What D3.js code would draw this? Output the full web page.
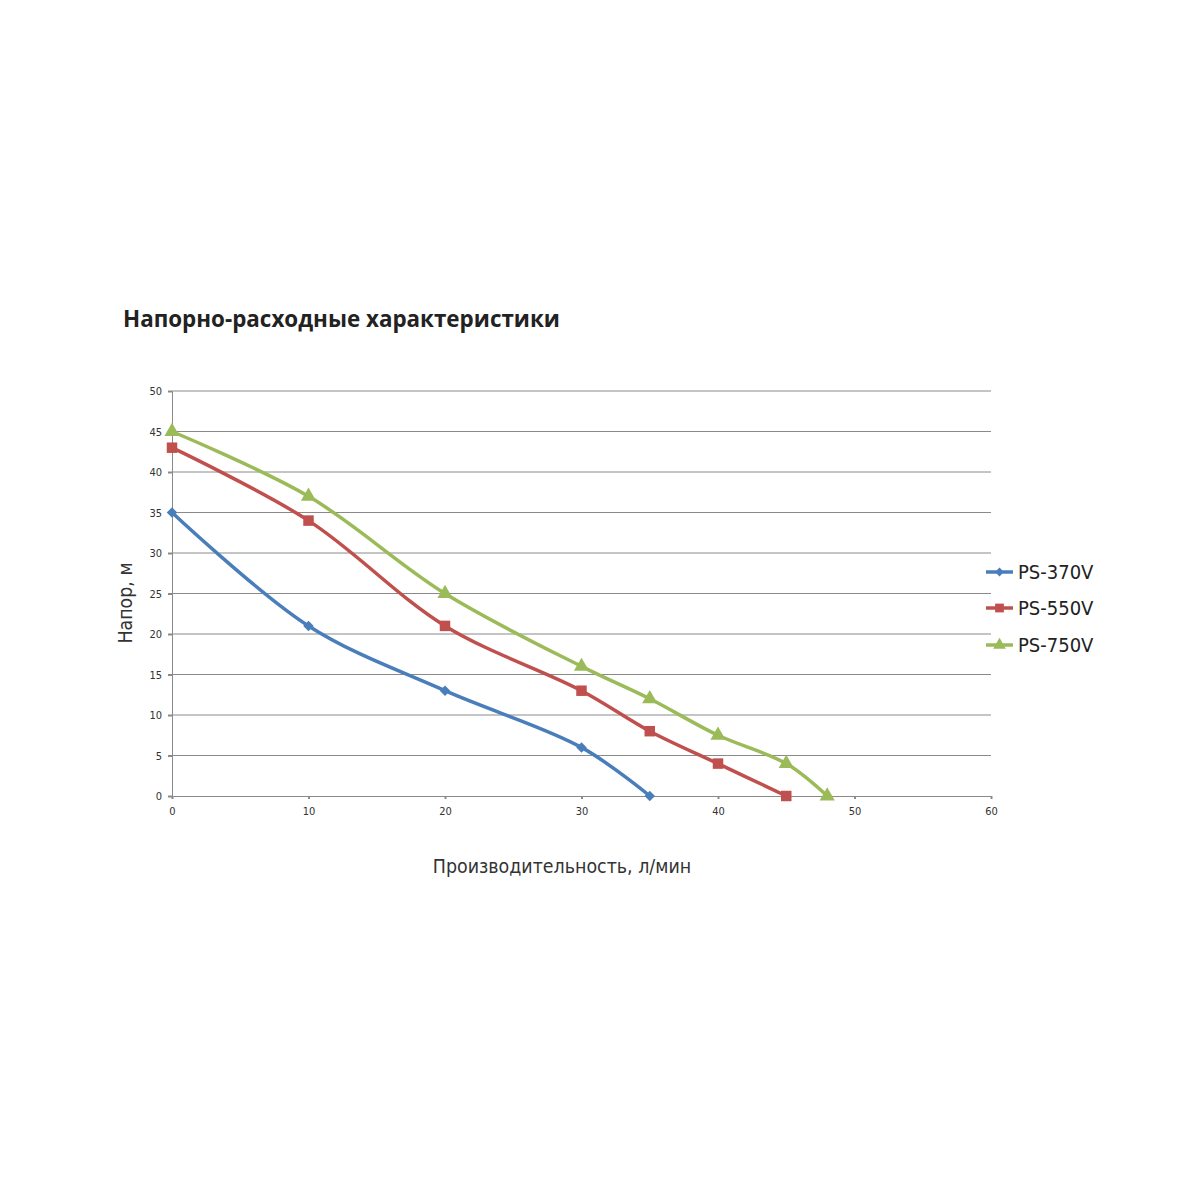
<!DOCTYPE html>
<html><head><meta charset="utf-8">
<script src="https://cdn.jsdelivr.net/npm/d3@7"></script>
<style>body{margin:0;background:#fff;}</style>
</head><body>
<svg id="c" width="1200" height="1200"></svg>
<script>
const xValues370 = [0, 10, 20, 30, 35];
const yValues370 = [35, 21, 13, 6, 0];
const xValues550 = [0, 10, 20, 30, 35, 40, 45];
const yValues550 = [43, 34, 21, 13, 8, 4, 0];
const xValues750 = [0, 10, 20, 30, 35, 40, 45, 48];
const yValues750 = [45, 37, 25, 16, 12, 7.5, 4, 0];
const seriesNames = ["PS-370V", "PS-550V", "PS-750V"];
const xTicks = [0, 10, 20, 30, 40, 50, 60];
const yTicks = [0, 5, 10, 15, 20, 25, 30, 35, 40, 45, 50];
const title = "Напорно-расходные характеристики";
const xTitle = "Производительность, л/мин";
const yTitle = "Напор, м";

const colors = ["#4a7ebb", "#c0504d", "#9bbb59"];
const symbols = [d3.symbolDiamond2, d3.symbolSquare, d3.symbolTriangle];
const symSize = [70, 110, 100];

const svg = d3.select("#c");
const x = d3.scaleLinear().domain([0, 60]).range([172, 991]);
const y = d3.scaleLinear().domain([0, 50]).range([796, 391]);
const tickFont = "'Liberation Sans Narrow','DejaVu Sans Condensed',sans-serif";

svg.append("text").attr("x", 123).attr("y", 327)
  .attr("font-family", "'Open Sans','Noto Sans',sans-serif").attr("font-weight", "bold")
  .attr("font-size", 22.4).attr("fill", "#222").text(title);

// gridlines
svg.append("g").selectAll("line").data(yTicks.filter(d => d > 0)).join("line")
  .attr("x1", x(0)).attr("x2", x(60)).attr("y1", d => y(d)).attr("y2", d => y(d))
  .attr("stroke", "#8a8a8a").attr("stroke-width", 1);

// y axis
const ya = svg.append("g").attr("transform", `translate(${x(0)},0)`)
  .call(d3.axisLeft(y).tickValues(yTicks).tickSize(4).tickPadding(6));
ya.select(".domain").attr("stroke", "#8a8a8a");
ya.selectAll(".tick line").attr("stroke", "#8a8a8a").attr("stroke-width", 2);
ya.selectAll("text").attr("font-family", tickFont).attr("font-size", 11).attr("fill", "#333");

// x axis
const xa = svg.append("g").attr("transform", `translate(0,${y(0)})`)
  .call(d3.axisBottom(x).tickValues(xTicks).tickSize(3).tickPadding(8));
xa.select(".domain").attr("stroke", "#8a8a8a");
xa.selectAll(".tick line").attr("stroke", "#8a8a8a").attr("stroke-width", 2);
xa.selectAll("text").attr("font-family", tickFont).attr("font-size", 11).attr("fill", "#333");

svg.append("text").attr("x", 562).attr("y", 873).attr("text-anchor", "middle")
  .attr("font-family", tickFont).attr("font-size", 19.4).attr("fill", "#333").text(xTitle);
svg.append("text").attr("transform", "translate(132,603) rotate(-90)").attr("text-anchor", "middle")
  .attr("font-family", tickFont).attr("font-size", 19.4).attr("fill", "#333").text(yTitle);

const data = [
  xValues370.map((v, i) => [v, yValues370[i]]),
  xValues550.map((v, i) => [v, yValues550[i]]),
  xValues750.map((v, i) => [v, yValues750[i]])
];
const line = d3.line().x(d => x(d[0])).y(d => y(d[1])).curve(d3.curveCatmullRom.alpha(0.5));

data.forEach((s, k) => {
  svg.append("path").attr("d", line(s)).attr("fill", "none")
    .attr("stroke", colors[k]).attr("stroke-width", 3.5);
  svg.append("g").selectAll("path").data(s).join("path")
    .attr("transform", d => `translate(${x(d[0])},${y(d[1])})`)
    .attr("d", d3.symbol(symbols[k], symSize[k])).attr("fill", colors[k]);
});

// legend
const ly = [572, 608, 645];
seriesNames.forEach((n, k) => {
  const g = svg.append("g").attr("transform", `translate(0,${ly[k]})`);
  g.append("line").attr("x1", 986).attr("x2", 1013).attr("y1", 0).attr("y2", 0)
    .attr("stroke", colors[k]).attr("stroke-width", 3.5);
  g.append("path").attr("transform", "translate(999.5,0)")
    .attr("d", d3.symbol(symbols[k], symSize[k] * 0.7)).attr("fill", colors[k]);
  g.append("text").attr("x", 1018).attr("y", 7).attr("font-family", tickFont)
    .attr("font-size", 20).attr("fill", "#222").text(n);
});
</script>
</body></html>
